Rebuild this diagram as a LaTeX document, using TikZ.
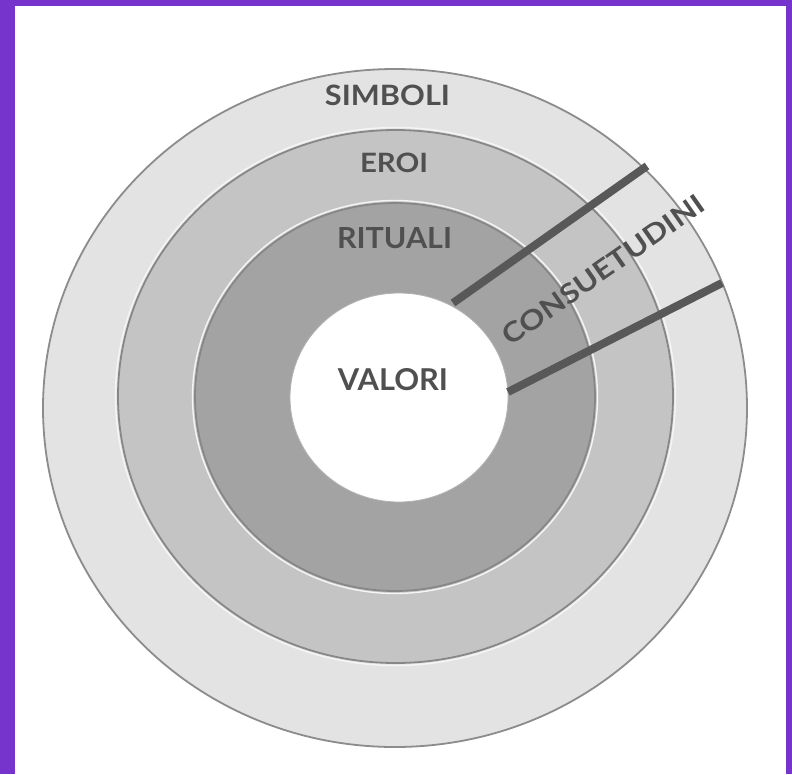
\documentclass[tikz,border=0pt]{standalone}
\usepackage{fontspec}
\usepackage{graphicx}
\newfontfamily\labfont{Lato}
\definecolor{frame}{RGB}{118,52,204}
\definecolor{ringA}{RGB}{227,227,227}
\definecolor{ringB}{RGB}{196,196,196}
\definecolor{ringC}{RGB}{163,163,163}
\definecolor{edgeA}{RGB}{140,140,140}
\definecolor{edgeB}{RGB}{135,135,135}
\definecolor{labtext}{RGB}{80,80,80}
\definecolor{bar}{RGB}{88,88,88}
\tikzset{
  ringedge/.style={line width=1.8pt},
  hilite/.style={draw=white!92!gray, line width=1.4pt},
  lab/.style={inner sep=0pt, text=labtext, font=\labfont\bfseries},
  barline/.style={draw=bar, line width=8pt, line cap=butt}
}
\begin{document}
\begin{tikzpicture}[x=1pt,y=-1pt]
\useasboundingbox (0,0) rectangle (792,774);
\fill[frame] (0,0) rectangle (792,774);
\fill[white] (15,6) rectangle (786,774);
% rings
\path[fill=ringA, draw=edgeA, ringedge] (395,408) ellipse [x radius=352pt, y radius=339pt];
\path[hilite] (395.5,396.5) ellipse [x radius=280pt, y radius=269pt];
\path[fill=ringB, draw=edgeB, ringedge] (395.5,396.5) ellipse [x radius=277.5pt, y radius=266.5pt];
\path[hilite] (395,397) ellipse [x radius=202.5pt, y radius=196.5pt];
\path[fill=ringC, draw=edgeB, ringedge] (395,397) ellipse [x radius=200pt, y radius=194pt];
\path[fill=white, draw=gray!60, line width=0.8pt] (399,397.5) ellipse [x radius=109pt, y radius=104.5pt];
% bars
\coordinate (b1in) at (453,303);
\coordinate (b1out) at (647,166);
\coordinate (b2in) at (508,392);
\coordinate (b2out) at (722,283);
\draw[barline] (b1in) -- (b1out);
\draw[barline] (b2in) -- (b2out);
% labels
\node[lab, anchor=base] (simboli) at (387.5,105) {\resizebox{125pt}{20.5pt}{SIMBOLI}};
\node[lab, anchor=base] (eroi) at (394,172) {\resizebox{68pt}{19.5pt}{EROI}};
\node[lab, anchor=base] (rituali) at (394.5,248) {\resizebox{115pt}{21pt}{RITUALI}};
\node[lab, anchor=base] (valori) at (393,390) {\resizebox{110pt}{22pt}{VALORI}};
\node[lab, anchor=center, rotate=35] (consuetudini) at (603,270) {\resizebox{240pt}{20pt}{CONSUETUDINI}};
\end{tikzpicture}
\end{document}
